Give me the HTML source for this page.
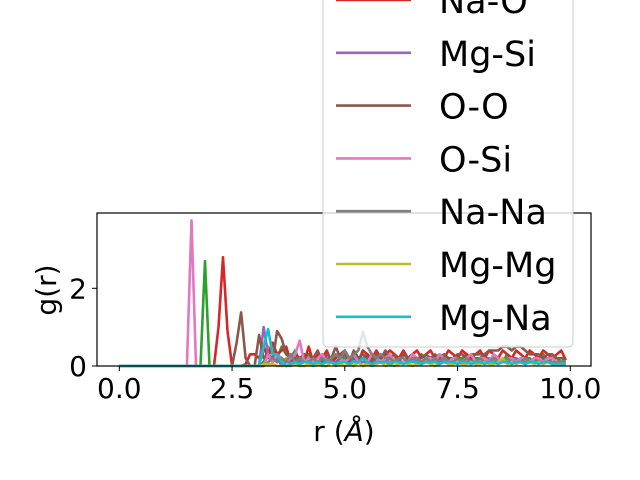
<!DOCTYPE html>
<html><head><meta charset="utf-8">
<style>
html,body{margin:0;padding:0;background:#fff;}
svg{display:block;font-family:"DejaVu Sans","Liberation Sans",sans-serif;}
</style></head>
<body>
<svg id="chart" width="640" height="480" viewBox="0 0 640 480">
<rect x="0" y="0" width="640" height="480" fill="#fff"/>
<g id="series"></g>
<rect x="97" y="213" width="494" height="153" fill="none" stroke="#000" stroke-width="1.2"/>
<g id="ticks"></g>
<text x="48" y="290" font-size="28" text-anchor="middle" transform="rotate(-90 48 290)" dominant-baseline="middle">g(r)</text>
<text x="344" y="441" font-size="28" text-anchor="middle">r (<tspan font-style="italic">Å</tspan>)</text>
<g id="legend"></g>
</svg>
<script>
const rStep = 0.1;
const seriesNames = ["O-Na","Mg-O","O-Mg","Na-O","Mg-Si","O-O","O-Si","Na-Na","Mg-Mg","Mg-Na"];
const seriesColors = ["#1f77b4","#ff7f0e","#2ca02c","#d62728","#9467bd","#8c564b","#e377c2","#7f7f7f","#bcbd22","#17becf"];
const blueVals = [0,0,0,0,0,0,0,0,0,0, 0,0,0,0,0,0,0,0,0,0, 0,0,0,0,0,0,0,0,0,0,
 0,0,0.1,0.3,0.2,0.1,0.2,0.1,0.1,0.2, 0.1,0.1,0.2,0.1,0.1,0.2,0.1,0.1,0.1,0.2,
 0.1,0.1,0.2,0.1,0.1,0.1,0.2,0.1,0.1,0.1, 0.2,0.1,0.1,0.1,0.2,0.1,0.1,0.1,0.1,0.2,
 0.1,0.1,0.1,0.2,0.1,0.1,0.1,0.1,0.2,0.1, 0.1,0.1,0.2,0.1,0.1,0.1,0.1,0.2,0.1,0.1, 0.1,0.1,0.2,0.1,0.1,0.1,0.1,0.1,0.1,0.1];
const orangeVals = [0,0,0,0,0,0,0,0,0,0, 0,0,0,0,0,0,0,0,0,0, 0,0,0,0,0,0,0,0,0,0,
 0,0,0,0.5,0.3,0.2,0.1,0.2,0.1,0.1, 0.2,0.1,0.1,0.2,0.1,0.1,0.1,0.2,0.1,0.1,
 0.1,0.2,0.1,0.1,0.2,0.1,0.1,0.1,0.2,0.1, 0.1,0.2,0.1,0.1,0.1,0.2,0.1,0.1,0.1,0.2,
 0.1,0.1,0.2,0.1,0.1,0.1,0.2,0.1,0.1,0.1, 0.2,0.1,0.1,0.1,0.2,0.1,0.1,0.1,0.1,0.2, 0.1,0.1,0.1,0.2,0.1,0.1,0.1,0.1,0.1,0.1];
const greenVals = [0,0,0,0,0,0,0,0,0,0, 0,0,0,0,0,0,0,0,0,2.7, 0,0,0,0,0,0,0,0,0,0,
 0,0,0.1,0.3,0.6,0.2,0.5,0.3,0.2,0.4, 0.1,0.2,0.3,0.1,0.2,0.3,0.2,0.1,0.3,0.2,
 0.2,0.1,0.3,0.2,0.2,0.3,0.1,0.2,0.2,0.3, 0.2,0.1,0.2,0.3,0.2,0.2,0.1,0.3,0.2,0.2,
 0.1,0.2,0.3,0.2,0.1,0.2,0.2,0.3,0.1,0.2, 0.2,0.3,0.1,0.2,0.2,0.1,0.3,0.2,0.2,0.1, 0.2,0.2,0.1,0.2,0.3,0.1,0.2,0.2,0.1,0.2];
const redVals = [0,0,0,0,0,0,0,0,0,0, 0,0,0,0,0,0,0,0,0,0, 0,0,1.0,2.8,0.9,0,0,0,0.05,0.3,
 0.3,0.2,0.5,0.2,0.6,0.3,0.4,0.5,0.1,0.3, 0.2,0.1,0.5,0.1,0.3,0.2,0.4,0.1,0.2,0.3,
 0.4,0.2,0.3,0.1,0.4,0.3,0.2,0.4,0.2,0.3, 0.4,0.3,0.2,0.4,0.2,0.3,0.4,0.2,0.3,0.4,
 0.2,0.3,0.2,0.4,0.3,0.2,0.4,0.3,0.2,0.3, 0.4,0.2,0.4,0.3,0.2,0.4,0.3,0.2,0.4,0.3, 0.2,0.4,0.3,0.2,0.4,0.3,0.2,0.3,0.4,0.15];
const purpleVals = [0,0,0,0,0,0,0,0,0,0, 0,0,0,0,0,0,0,0,0,0, 0,0,0,0,0,0,0,0,0,0,
 0,0,1.0,0.3,0.1,0.2,0,0.1,0.1,0.05, 0.1,0.1,0.2,0.1,0.1,0.1,0.2,0.1,0.1,0.1,
 0.1,0.2,0.1,0.1,0.1,0.2,0.1,0.1,0.1,0.1, 0.2,0.1,0.1,0.1,0.1,0.2,0.1,0.1,0.1,0.1,
 0.1,0.2,0.1,0.1,0.1,0.1,0.1,0.2,0.1,0.1, 0.1,0.1,0.2,0.1,0.1,0.1,0.1,0.1,0.2,0.1, 0.1,0.1,0.1,0.1,0.2,0.1,0.1,0.1,0.1,0.1];
const brownVals = [0,0,0,0,0,0,0,0,0,0, 0,0,0,0,0,0,0,0,0,0, 0,0,0,0,0,0,0.6,1.38,0.2,0,
 0,0.8,0.2,0.3,0.1,0.9,0.7,0.3,0.2,0.1, 0.2,0.3,0.1,0.2,0.4,0.1,0.3,0.2,0.5,0.2,
 0.3,0.1,0.4,0.2,0.3,0.2,0.1,0.3,0.2,0.4, 0.2,0.3,0.1,0.3,0.2,0.3,0.2,0.2,0.3,0.2,
 0.3,0.2,0.3,0.2,0.2,0.3,0.3,0.2,0.3,0.3, 0.3,0.3,0.4,0.4,0.4,0.5,0.5,0.4,0.5,0.5, 0.4,0.3,0.3,0.3,0.2,0.3,0.3,0.2,0.2,0.2];
const pinkVals = [0,0,0,0,0,0,0,0,0,0, 0,0,0,0,0,0,3.75,0,0,0, 0,0,0,0,0,0,0,0,0,0,
 0,0,0,0.3,0.1,0.3,0.2,0.1,0.2,0.3, 0.65,0.1,0.2,0.1,0.2,0.3,0.1,0.2,0.3,0.2,
 0.1,0.2,0.3,0.1,0.2,0.1,0.3,0.2,0.1,0.2, 0.3,0.1,0.2,0.2,0.1,0.3,0.2,0.1,0.2,0.2,
 0.1,0.3,0.2,0.1,0.2,0.2,0.1,0.2,0.3,0.1, 0.2,0.2,0.1,0.3,0.2,0.1,0.2,0.2,0.1,0.2, 0.2,0.1,0.2,0.2,0.1,0.2,0.2,0.1,0.1,0.1];
const grayVals = [0,0,0,0,0,0,0,0,0,0, 0,0,0,0,0,0,0,0,0,0, 0,0,0,0,0,0,0,0,0,0,
 0,0,0,0.1,0.2,0.1,0.2,0.1,0.3,0.1, 0.2,0.1,0.1,0.2,0.1,0.2,0.1,0.2,0.3,0.2,
 0.4,0.2,0.3,0.4,0.88,0.5,0.3,0.2,0.3,0.2, 0.2,0.1,0.2,0.2,0.1,0.2,0.2,0.1,0.2,0.1,
 0.2,0.1,0.2,0.1,0.1,0.2,0.1,0.2,0.1,0.1, 0.2,0.1,0.1,0.2,0.1,0.1,0.2,0.1,0.1,0.1, 0.2,0.1,0.1,0.1,0.1,0.1,0.1,0.1,0.1,0.1];
const oliveVals = [0,0,0,0,0,0,0,0,0,0, 0,0,0,0,0,0,0,0,0,0, 0,0,0,0,0,0,0,0,0,0,
 0,0,0.05,0.05,0.05,0,0,0,0,0.05, 0,0,0.05,0,0.05,0,0,0.1,0,0.05,
 0,0.05,0,0.1,0,0.05,0,0.05,0.1,0, 0.05,0,0.05,0.1,0.05,0,0.05,0.05,0.1,0.05,
 0,0.05,0.1,0.05,0.05,0.1,0.05,0.05,0.1,0.05, 0.05,0.1,0.05,0.05,0.1,0.2,0.05,0.1,0.05,0.1, 0.05,0.1,0.05,0.1,0.05,0.1,0.05,0.05,0.05,0.05];
const cyanVals = [0,0,0,0,0,0,0,0,0,0, 0,0,0,0,0,0,0,0,0,0, 0,0,0,0,0,0,0,0,0,0,
 0,0,0.5,0.95,0.3,0.3,0.1,0,0.05,0.1, 0.05,0.1,0.1,0.05,0.1,0.05,0.1,0.1,0.05,0.1,
 0.1,0.05,0.1,0.1,0.2,0.1,0.05,0.1,0.1,0.1, 0.05,0.1,0.1,0.05,0.1,0.1,0.1,0.05,0.1,0.1,
 0.1,0.05,0.1,0.1,0.1,0.05,0.1,0.1,0.05,0.1, 0.1,0.05,0.1,0.1,0.05,0.1,0.1,0.05,0.1,0.1, 0.05,0.1,0.1,0.05,0.1,0.1,0.05,0.05,0.05,0.05];
const allSeries = [blueVals,orangeVals,greenVals,redVals,purpleVals,brownVals,pinkVals,grayVals,oliveVals,cyanVals];
const xTicks = [0,2.5,5,7.5,10];
const xTickLabels = ["0.0","2.5","5.0","7.5","10.0"];
const yTicks = [0,2];
const yTickLabels = ["0","2"];
const legendLabels = ["Na-O","Mg-Si","O-O","O-Si","Na-Na","Mg-Mg","Mg-Na"];
const legendColors = ["#d62728","#9467bd","#8c564b","#e377c2","#7f7f7f","#bcbd22","#17becf"];

const NS = "http://www.w3.org/2000/svg";
function xs(v){ return 119.3 + v*45.1; }
function ys(v){ return 366 - v*38.85; }
const gS = document.getElementById('series');
allSeries.forEach((vals,k)=>{
  const p = document.createElementNS(NS,'polyline');
  p.setAttribute('points', vals.map((v,i)=>xs(i*rStep).toFixed(1)+','+ys(v).toFixed(1)).join(' '));
  p.setAttribute('fill','none');
  p.setAttribute('stroke',seriesColors[k]);
  p.setAttribute('stroke-width','2.6');
  p.setAttribute('stroke-linejoin','round');
  
  
  gS.appendChild(p);
});
const gT = document.getElementById('ticks');
xTicks.forEach((t,i)=>{
  const l = document.createElementNS(NS,'line');
  l.setAttribute('x1',xs(t)); l.setAttribute('x2',xs(t)); l.setAttribute('y1',366); l.setAttribute('y2',371);
  l.setAttribute('stroke','#000'); l.setAttribute('stroke-width','1');
   
  gT.appendChild(l);
  const tx = document.createElementNS(NS,'text');
  tx.setAttribute('x',xs(t)); tx.setAttribute('y',398); tx.setAttribute('font-size','28'); tx.setAttribute('text-anchor','middle');
  tx.textContent = xTickLabels[i];
   
  gT.appendChild(tx);
});
yTicks.forEach((t,i)=>{
  const l = document.createElementNS(NS,'line');
  l.setAttribute('x1',92); l.setAttribute('x2',97); l.setAttribute('y1',ys(t)); l.setAttribute('y2',ys(t));
  l.setAttribute('stroke','#000'); l.setAttribute('stroke-width','1');
   
  gT.appendChild(l);
  const tx = document.createElementNS(NS,'text');
  tx.setAttribute('x',87); tx.setAttribute('y',ys(t)+10); tx.setAttribute('font-size','28'); tx.setAttribute('text-anchor','end');
  tx.textContent = yTickLabels[i];
   
  gT.appendChild(tx);
});
const gL = document.getElementById('legend');
const box = document.createElementNS(NS,'rect');
box.setAttribute('x',323); box.setAttribute('y',-40); box.setAttribute('width',250); box.setAttribute('height',387);
box.setAttribute('rx',5); box.setAttribute('fill','#fff'); box.setAttribute('fill-opacity','0.8');
box.setAttribute('stroke','#cccccc'); box.setAttribute('stroke-width','1');
 
gL.appendChild(box);
legendLabels.forEach((lab,i)=>{
  const y = 0 + i*52.8;
  const l = document.createElementNS(NS,'line');
  l.setAttribute('x1',336); l.setAttribute('x2',411); l.setAttribute('y1',y); l.setAttribute('y2',y);
  l.setAttribute('stroke',legendColors[i]); l.setAttribute('stroke-width','2.6');
   
  gL.appendChild(l);
  const tx = document.createElementNS(NS,'text');
  tx.setAttribute('x',439); tx.setAttribute('y',y+13); tx.setAttribute('font-size','35');
  tx.textContent = lab;
   
  gL.appendChild(tx);
});
</script>
</body></html>
